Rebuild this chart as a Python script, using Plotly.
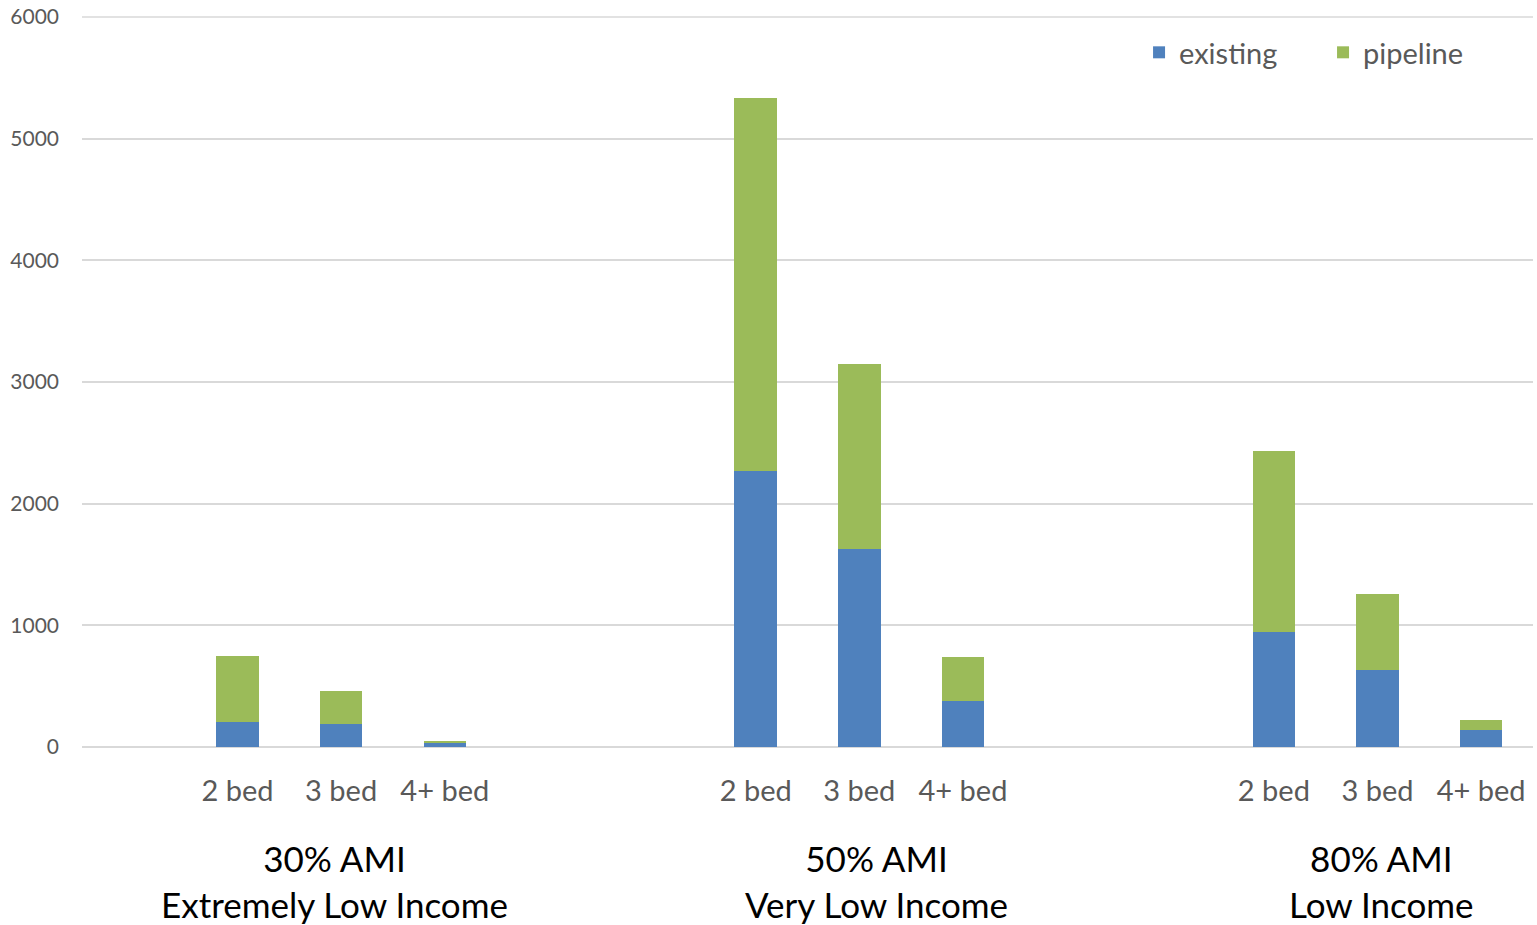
import plotly.graph_objects as go

# ---- data ----
groups = ["30% AMI<br>Extremely Low Income", "50% AMI<br>Very Low Income", "80% AMI<br>Low Income"]
beds = ["2 bed", "3 bed", "4+ bed"]
existing = [
    [202, 186, 35],
    [2270, 1630, 380],
    [945, 633, 137],
]
pipeline = [
    [543, 277, 15],
    [3060, 1515, 362],
    [1490, 622, 82],
]
series_names = ["existing", "pipeline"]
colors = ["#4F81BD", "#9BBB59"]
y_max = 6000

# ---- layout positions (slots) ----
slot_start = 1
group_stride = 5
xs, ex_vals, pi_vals, tick_text = [], [], [], []
for g in range(len(groups)):
    for b in range(len(beds)):
        xs.append(slot_start + group_stride * g + b)
        ex_vals.append(existing[g][b])
        pi_vals.append(pipeline[g][b])
        tick_text.append(beds[b])

FONT = "Lato"
GRID = "#D9D9D9"
fig = go.Figure()
fig.add_trace(go.Bar(x=xs, y=ex_vals, name=series_names[0], marker_color=colors[0],
                     marker_line_width=0, width=0.41, legend="legend"))
fig.add_trace(go.Bar(x=xs, y=pi_vals, name=series_names[1], marker_color=colors[1],
                     marker_line_width=0, width=0.41, legend="legend2"))

# top gridline (at the edge of the value range)
fig.add_hline(y=y_max, line=dict(color=GRID, width=1.5), layer="below")

group_shift_px = [-7, 17, 4]
for g, label in enumerate(groups):
    center = slot_start + group_stride * g + (len(beds) - 1) / 2
    fig.add_annotation(x=center, xref="x", y=0, yref="paper", yanchor="top",
                       yshift=-88, xshift=group_shift_px[g], text=label, showarrow=False,
                       font=dict(family=FONT, size=35, color="#000000"),
                       align="center")

legend_style = dict(orientation="h", xanchor="left", y=0.985, yanchor="top",
                    font=dict(family=FONT, size=29, color="#595959"),
                    itemwidth=30, bgcolor="rgba(0,0,0,0)")

fig.update_layout(
    width=1537, height=925,
    barmode="stack",
    plot_bgcolor="white", paper_bgcolor="white",
    margin=dict(l=82, r=4, t=16, b=178),
    font=dict(family=FONT, color="#595959"),
    legend=dict(x=0.7285, **legend_style),
    legend2=dict(x=0.8553, **legend_style),
    showlegend=True,
    xaxis=dict(range=[-0.5, 13.5], tickmode="array", tickvals=xs, ticktext=tick_text,
               showgrid=False, zeroline=False, showline=False, ticks="",
               ticklabelstandoff=24, automargin=False,
               tickfont=dict(family=FONT, size=29, color="#595959")),
    yaxis=dict(range=[0, y_max + 8], dtick=1000,
               showgrid=True, gridcolor=GRID, gridwidth=1.5,
               zeroline=True, zerolinecolor=GRID, zerolinewidth=1.5,
               showline=False, ticks="", ticklabelstandoff=22, automargin=False,
               tickfont=dict(family=FONT, size=21, color="#595959")),
)

fig.write_html("out.html", config={"displayModeBar": False},
               post_script="document.body.style.margin='0';document.body.style.overflow='hidden';")
